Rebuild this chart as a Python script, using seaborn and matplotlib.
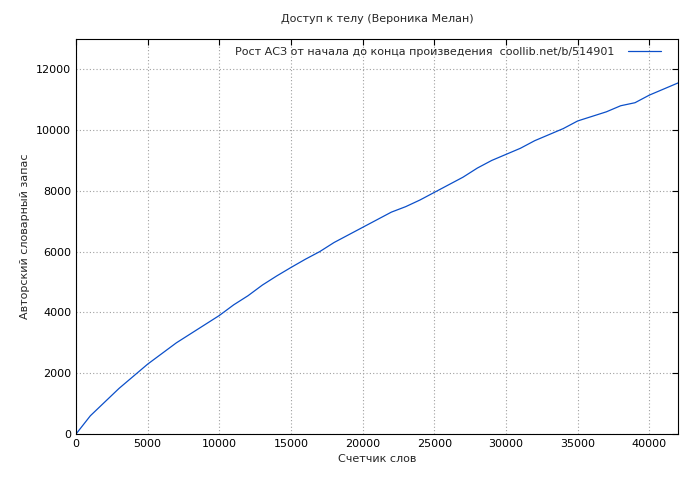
import matplotlib
matplotlib.use('Agg')
import matplotlib.pyplot as plt
import pandas as pd
import seaborn as sns

# Data
words = [0, 1000, 2000, 3000, 4000, 5000, 6000, 7000, 8000, 9000, 10000, 11000, 12000,
         13000, 14000, 15000, 16000, 17000, 18000, 19000, 20000, 21000, 22000, 23000,
         24000, 25000, 26000, 27000, 28000, 29000, 30000, 31000, 32000, 33000, 34000,
         35000, 36000, 37000, 38000, 39000, 40000, 41000, 42000]
vocab = [0, 600, 1050, 1500, 1900, 2300, 2650, 3000, 3300, 3600, 3900, 4250, 4550,
         4900, 5200, 5480, 5750, 6000, 6300, 6550, 6800, 7050, 7300, 7480,
         7700, 7950, 8200, 8450, 8750, 9000, 9200, 9400, 9650, 9850, 10050,
         10300, 10450, 10600, 10800, 10900, 11150, 11350, 11550]

df = pd.DataFrame({'words': words, 'vocab': vocab})

sns.set_style('white')
plt.rcParams['font.family'] = ['DejaVu Sans']
plt.rcParams['font.size'] = 8

fig = plt.figure(figsize=(7, 4.8), dpi=100)
ax = fig.add_axes([0.1086, 0.0958, 0.86, 0.8232])

sns.lineplot(data=df, x='words', y='vocab', color='#0b4fc9', linewidth=0.9, ax=ax,
             label='Рост АСЗ от начала до конца произведения  coollib.net/b/514901')

ax.set_xlim(0, 42000)
ax.set_ylim(0, 13000)
ax.set_xticks(range(0, 42001, 5000))
ax.set_yticks(range(0, 13000, 2000))
ax.grid(True, color='#a0a0a0', linestyle=(0, (1, 2)), linewidth=0.8)
for s in ax.spines.values():
    s.set_color('black')
    s.set_linewidth(0.8)
ax.tick_params(direction='in', length=4, top=True, right=True, labelsize=8, colors='black')

ax.set_title('Доступ к телу (Вероника Мелан)', fontsize=8, pad=12)
ax.set_xlabel('Счетчик слов', fontsize=8)
ax.set_ylabel('Авторский словарный запас', fontsize=8)
ax.legend(loc='upper right', frameon=False, markerfirst=False, fontsize=8,
          handlelength=3, handletextpad=1.2, borderaxespad=0.3, bbox_to_anchor=(0.985, 1))

fig.savefig('out.png', dpi=100)
